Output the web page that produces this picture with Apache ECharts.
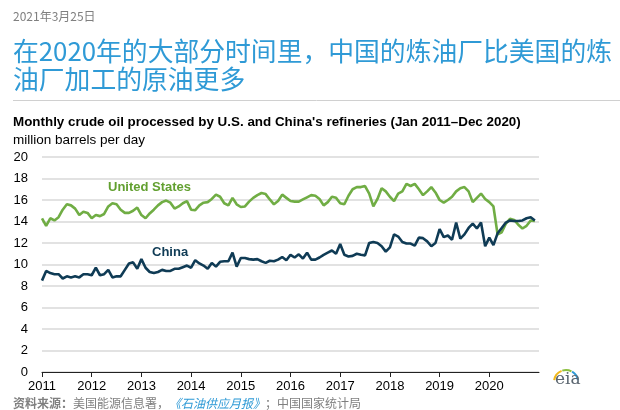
<!DOCTYPE html>
<html><head><meta charset="utf-8">
<script src="https://cdn.jsdelivr.net/npm/echarts@6/dist/echarts.min.js"></script>
<style>html,body{margin:0;padding:0;background:#fff}#c{width:620px;height:410px}</style>
</head><body><div id="c"></div>
<script>
// ---- data (million barrels per day, monthly Jan 2011 – Dec 2020) ----
const yearLabels = ['2011','2012','2013','2014','2015','2016','2017','2018','2019','2020'];
const yTickValues = [0,2,4,6,8,10,12,14,16,18,20];
const usValues = [
  14.3,13.6,14.3,14.1,14.4,15.1,15.6,15.5,15.2,14.6,14.9,14.8,
  14.3,14.6,14.5,14.7,15.4,15.7,15.6,15.1,14.8,14.8,15.0,15.3,
  14.6,14.3,14.75,15.1,15.5,15.8,15.95,15.75,15.2,15.4,15.7,15.9,
  15.1,15.05,15.5,15.75,15.8,16.1,16.5,16.3,15.7,15.5,16.2,15.6,
  15.35,15.4,15.85,16.2,16.45,16.65,16.55,16.05,15.6,15.9,16.5,16.2,
  15.9,15.85,15.85,16.05,16.25,16.45,16.4,16.1,15.5,15.8,16.3,16.2,
  15.7,15.6,16.4,17.0,17.2,17.2,17.3,16.6,15.4,16.1,17.1,16.8,
  16.3,15.9,16.6,16.8,17.5,17.3,17.5,17.0,16.45,16.8,17.2,16.7,
  16.0,15.75,16.0,16.3,16.8,17.1,17.2,16.8,15.8,16.2,16.6,16.1,
  15.8,15.4,12.8,13.0,13.8,14.25,14.15,13.7,13.35,13.6,14.1,14.05
];
const chinaValues = [
  8.5,9.4,9.2,9.1,9.1,8.7,8.9,8.8,8.9,8.8,9.1,9.1,
  9.0,9.7,9.0,9.1,9.5,8.8,8.9,8.9,9.5,10.1,10.2,9.6,
  10.5,9.7,9.3,9.2,9.3,9.5,9.4,9.4,9.6,9.6,9.75,9.9,
  9.7,10.4,10.1,9.9,9.6,10.15,9.8,10.25,10.3,10.3,11.1,9.8,
  10.6,10.6,10.5,10.45,10.5,10.3,10.15,10.35,10.3,10.45,10.7,10.4,
  10.9,10.65,10.95,10.55,11.1,10.45,10.45,10.65,10.9,11.1,11.3,11.0,
  11.9,10.9,10.75,10.8,11.0,10.9,10.85,12.0,12.1,12.0,11.7,11.2,
  11.6,12.8,12.6,12.1,11.95,11.95,11.75,12.5,12.45,12.15,11.7,12.0,
  13.3,12.55,12.7,12.3,13.9,12.4,12.8,13.4,13.8,13.35,13.9,11.7,
  12.5,11.8,12.9,13.4,13.9,14.1,14.05,14.05,14.1,14.3,14.4,14.1
];
const seriesNames = ['United States','China'];

// ---- styles ----
const US_COLOR = '#70ad44';
const US_TEXT = '#62a030';
const CN_COLOR = '#0f3b55';
const TITLE_BLUE = '#2f9ad6';
const GREY = '#7f7f7f';

const tickPositions = yearLabels.map((_, i) => i * 12);

const chart = echarts.init(document.getElementById('c'), null, {renderer: 'canvas'});
chart.setOption({
  animation: false,
  backgroundColor: '#fff',
  grid: {left: 42, right: 81, top: 157, bottom: 38, containLabel: false},
  xAxis: {
    type: 'value', min: 0, max: 120, interval: 12,
    axisLine: {show: true, lineStyle: {color: '#222', width: 1}},
    axisTick: {show: true, length: 5, lineStyle: {color: '#222'}, customValues: tickPositions},
    axisLabel: {
      customValues: tickPositions,
      color: '#000', fontSize: 13, fontFamily: 'Liberation Sans, Arial, sans-serif', margin: 8,
      formatter: v => (v >= 0 && v < 120 && v % 12 === 0) ? yearLabels[v / 12] : ''
    },
    splitLine: {show: false}
  },
  yAxis: {
    type: 'value', min: 0, max: 20, interval: 2,
    axisLine: {show: false}, axisTick: {show: false},
    axisLabel: {color: '#000', fontSize: 13, fontFamily: 'Liberation Sans, Arial, sans-serif', margin: 14,
      formatter: v => yTickValues.includes(v) ? String(v) : ''},
    splitLine: {show: true, lineStyle: {color: '#d9d9d9', width: 1.5}}
  },
  series: [
    {name: seriesNames[0], type: 'line', showSymbol: false, symbol: 'none',
     data: usValues.map((v, i) => [i, v]),
     lineStyle: {color: US_COLOR, width: 2.6}, z: 3},
    {name: seriesNames[1], type: 'line', showSymbol: false, symbol: 'none',
     data: chinaValues.map((v, i) => [i, v]),
     lineStyle: {color: CN_COLOR, width: 2.6}, z: 4}
  ],
  graphic: [
    {type: 'text', left: 13, top: 10, style: {text: '2021年3月25日', fill: GREY, font: '12px "Noto Sans CJK SC", "Liberation Sans", sans-serif'}},
    {type: 'text', left: 13, top: 38, style: {text: '在2020年的大部分时间里，中国的炼油厂比美国的炼', fill: TITLE_BLUE, font: '25.8px "Noto Sans CJK SC", sans-serif'}},
    {type: 'text', left: 13, top: 66, style: {text: '油厂加工的原油更多', fill: TITLE_BLUE, font: '25.8px "Noto Sans CJK SC", sans-serif'}},
    {type: 'line', shape: {x1: 13, y1: 100.5, x2: 620, y2: 100.5}, style: {stroke: '#d0d0d0', lineWidth: 1}},
    {type: 'text', left: 13, top: 116, style: {text: 'Monthly crude oil processed by U.S. and China\'s refineries (Jan 2011\u2013Dec 2020)', fill: '#000', font: 'bold 13.4px "Liberation Sans", Arial, sans-serif'}},
    {type: 'text', left: 13, top: 133, style: {text: 'million barrels per day', fill: '#000', font: '13.5px "Liberation Sans", Arial, sans-serif'}},
    {type: 'text', left: 108, top: 181, style: {text: seriesNames[0], fill: US_TEXT, font: 'bold 13px "Liberation Sans", Arial, sans-serif'}},
    {type: 'text', left: 152, top: 246, style: {text: seriesNames[1], fill: CN_COLOR, font: 'bold 13px "Liberation Sans", Arial, sans-serif'}},
    {type: 'text', left: 13, top: 397, style: {
      text: '{b|资料来源：}{g|美国能源信息署，}{l|《石油供应月报》}{g|；中国国家统计局}',
      rich: {
        b: {fill: GREY, font: 'bold 12px "Noto Sans CJK SC", sans-serif'},
        g: {fill: GREY, font: '12px "Noto Sans CJK SC", sans-serif'},
        l: {fill: TITLE_BLUE, font: 'italic 12px "Noto Sans CJK SC", sans-serif'}
      }}},
    // eia logo
    {type: 'arc', shape: {cx: 566, cy: 382, r: 12, startAngle: -Math.PI * 0.95, endAngle: -Math.PI * 0.62}, style: {stroke: '#f2b81a', lineWidth: 2, fill: null}},
    {type: 'arc', shape: {cx: 566, cy: 382, r: 12, startAngle: -Math.PI * 0.6, endAngle: -Math.PI * 0.35}, style: {stroke: '#8cbf3f', lineWidth: 2, fill: null}},
    {type: 'arc', shape: {cx: 566, cy: 382, r: 12, startAngle: -Math.PI * 0.33, endAngle: -Math.PI * 0.05}, style: {stroke: '#2f9ad6', lineWidth: 2, fill: null}},
    {type: 'text', left: 555, top: 371, style: {text: 'eia', fill: '#5b6670', font: '17px "DejaVu Serif", serif'}}
  ]
});
</script>
</body></html>
